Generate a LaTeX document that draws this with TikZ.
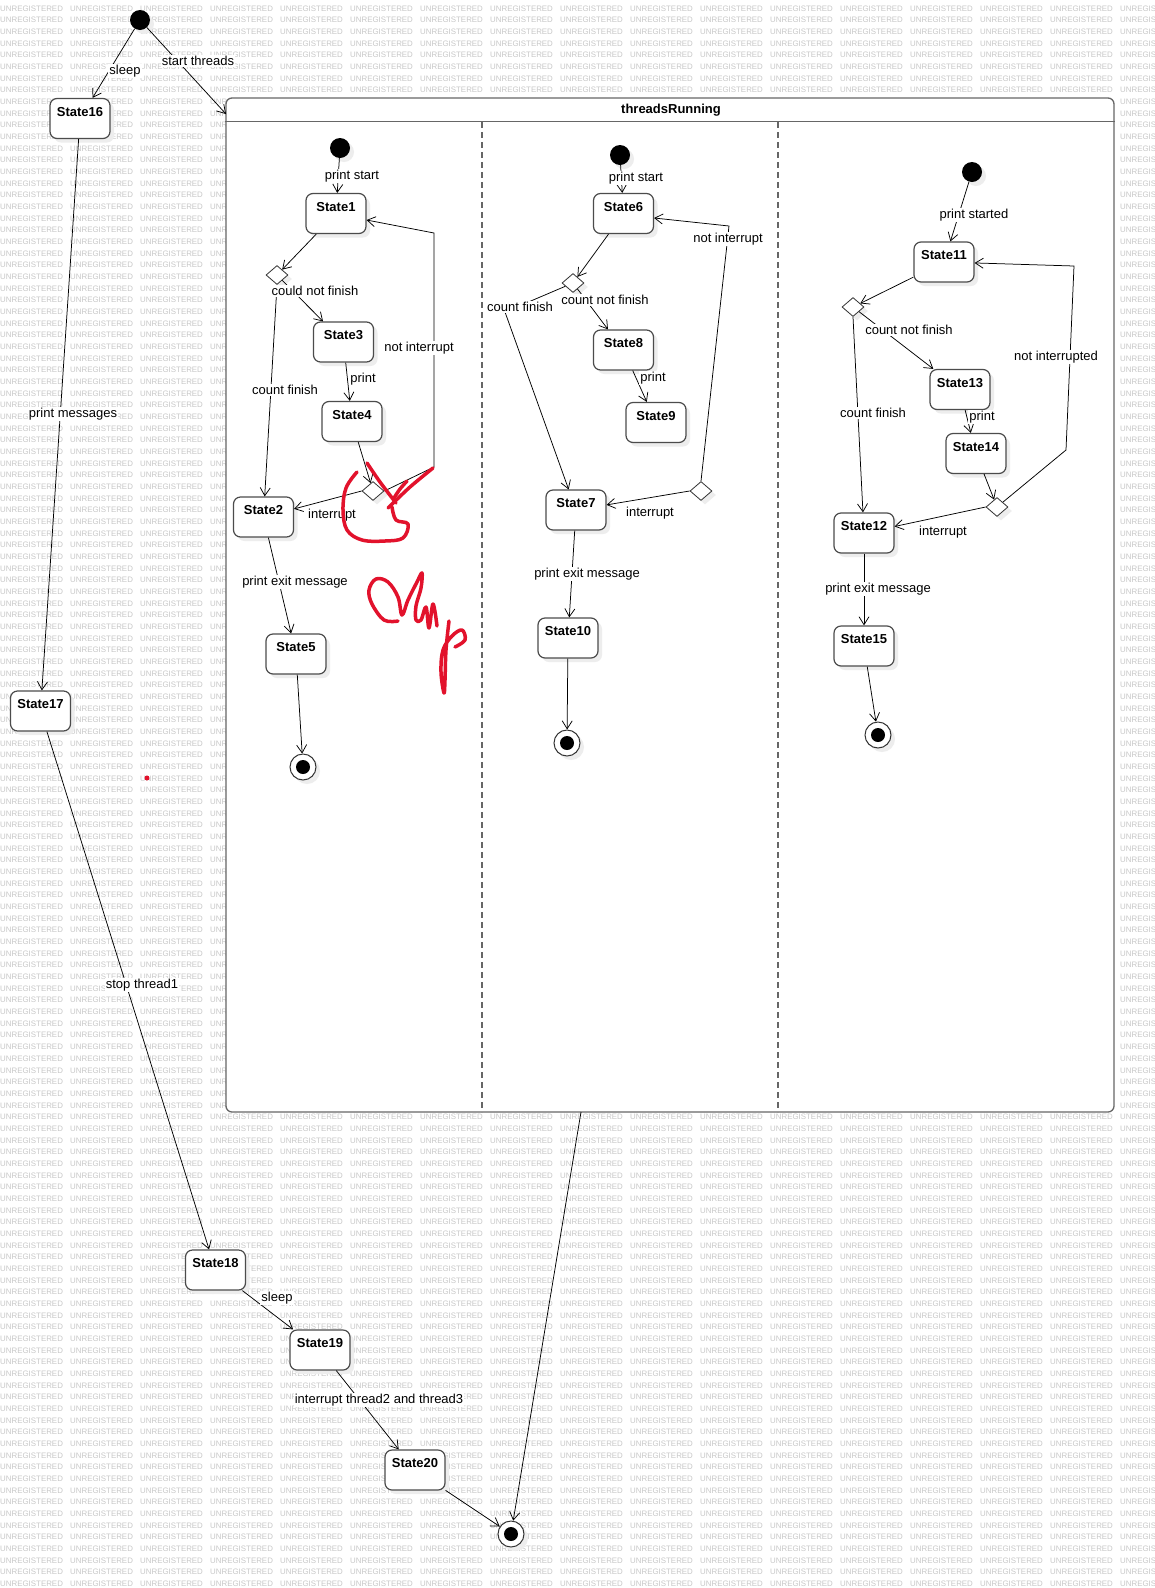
\documentclass[tikz,border=0pt]{standalone}
\usepackage{fontspec}
\setmainfont{Liberation Sans}
\usetikzlibrary{arrows.meta,shapes.geometric,shadows}
\begin{document}
\begin{tikzpicture}[x=1pt, y=-1pt,
  stateBox/.style={rectangle, rounded corners=7pt, draw=\smBorderColor, line width=1.2pt,
    fill=white, minimum width=60pt, minimum height=40pt, inner sep=0pt,
    text height=17.5pt, text depth=22.5pt, font=\smFont\bfseries, smShadow},
  choice/.style={diamond, draw=black!80, line width=0.8pt, fill=white,
    minimum width=22pt, minimum height=19pt, inner sep=0pt, smShadow},
  startDot/.style={circle, fill=black, minimum size=20pt, inner sep=0pt, smShadow},
  endDot/.style={circle, draw=black!80, line width=1pt, fill=white, minimum size=26pt,
    inner sep=0pt, smShadow,
    path picture={\fill[black] (path picture bounding box.center) circle (7pt);}},
  smShadow/.style={general shadow={fill=black!7, shadow xshift=4pt, shadow yshift=-4pt}},
  trans/.style={draw=black, line width=0.75pt, -{Straight Barb[length=8pt,width=10pt]}},
  lbl/.style={fill=white, inner sep=1pt, font=\smFont},
  wmark/.style={inner sep=0pt, text=black!22, font=\fontsize{7.9}{8}\selectfont},
  scrawl/.style={draw=smInk, line width=3.5pt, line cap=round, line join=round}]
% State diagram exported from the UML tool
\providecommand{\smFont}{\fontsize{13}{15}\selectfont}
\providecommand{\smBorderColor}{black!70}
\providecommand{\smFrameColor}{black!60}
\definecolor{smInk}{RGB}{226,18,44}
\def\wmWord{\makebox[70pt][l]{UNREGISTERED}}
\useasboundingbox (0,0) rectangle (1155,1588);
% Watermark rows
\begin{scope}
  \clip (0,0) rectangle (1155,1588);
  \foreach \r in {0,...,135}
    \node[wmark, anchor=west] (wm\r) at (0, 8.3+11.67*\r)
      {\wmWord\wmWord\wmWord\wmWord\wmWord\wmWord\wmWord\wmWord\wmWord\wmWord\wmWord\wmWord\wmWord\wmWord\wmWord\wmWord\wmWord};
\end{scope}
% Composite state with three regions
\node[rectangle, rounded corners=6pt, draw=\smFrameColor, line width=1.3pt, fill=white,
  minimum width=888pt, minimum height=1014pt, inner sep=0pt] (thr) at (670,605) {};
\node[font=\smFont\bfseries, inner sep=0pt] (thrTitle) at (671,110) {threadsRunning};
\draw[draw=\smFrameColor, line width=1.3pt] ([yshift=-24pt]thr.north west) -- ([yshift=-24pt]thr.north east);
\begin{scope}[draw=\smFrameColor, line width=1.2pt, dash pattern=on 6pt off 4pt]
  \draw (482,122) -- (482,1112);
  \draw (778,122) -- (778,1112);
\end{scope}
\coordinate (thrIn) at (226,114);
\coordinate (thrOut) at (581,1112);
% Outer states
\node[startDot] (init0) at (140,20) {};
\node[stateBox] (S16) at (80,118.5) {State16};
\node[stateBox] (S17) at (40.5,711) {State17};
\node[stateBox] (S18) at (215.5,1270) {State18};
\node[stateBox] (S19) at (320,1350) {State19};
\node[stateBox] (S20) at (415,1470) {State20};
\node[endDot] (fin0) at (511,1534) {};
% Region 1
\node[startDot] (init1) at (340,148) {};
\node[stateBox] (S1) at (336,213.5) {State1};
\node[choice] (d1) at (277,275) {};
\node[stateBox] (S3) at (343.5,342) {State3};
\node[stateBox] (S4) at (352,421.5) {State4};
\node[choice] (d2) at (373,491) {};
\node[stateBox] (S2) at (263.5,517) {State2};
\node[stateBox] (S5) at (296,654) {State5};
\node[endDot] (fin1) at (303,767) {};
% Region 2
\node[startDot] (init2) at (620,155) {};
\node[stateBox] (S6) at (623.5,213.5) {State6};
\node[choice] (d3) at (573,283) {};
\node[stateBox] (S8) at (623.5,350) {State8};
\node[stateBox] (S9) at (656,422.5) {State9};
\node[choice] (d4) at (701,491) {};
\node[stateBox] (S7) at (576,510) {State7};
\node[stateBox] (S10) at (568,638) {State10};
\node[endDot] (fin2) at (567,743) {};
% Region 3
\node[startDot] (init3) at (972,172) {};
\node[stateBox] (S11) at (944,262) {State11};
\node[choice] (d5) at (853,307) {};
\node[stateBox] (S13) at (960,389.5) {State13};
\node[stateBox] (S14) at (976,453.5) {State14};
\node[choice] (d6) at (997,507) {};
\node[stateBox] (S12) at (864,533) {State12};
\node[stateBox] (S15) at (864,646) {State15};
\node[endDot] (fin3) at (878,735) {};
% Transitions
\draw[trans] (init0) -- (S16);
\draw[trans] (init0) -- (thrIn);
\draw[trans] (S16) -- (S17);
\draw[trans] (S17) -- (S18);
\draw[trans] (S18) -- (S19);
\draw[trans] (S19) -- (S20);
\draw[trans] (S20) -- (fin0);
\draw[trans] (thrOut) -- (fin0);
\draw[trans] (init1) -- (S1);
\draw[trans] (S1) -- (d1);
\draw[trans] (d1) -- (S3);
\draw[trans] (d1.south) -- (S2);
\draw[trans] (S3) -- (S4);
\draw[trans] (S4) -- (d2);
\draw[trans] (d2.west) -- (S2);
\draw[trans] (d2.east) -- (434,467) -- (434,233) -- ([yshift=-6.5pt]S1.east);
\draw[trans] (S2) -- (S5);
\draw[trans] (S5) -- (fin1);
\draw[trans] (init2) -- (S6);
\draw[trans] (S6) -- (d3);
\draw[trans] (d3) -- (S8);
\draw[trans] (d3) -- (505,312) -- (S7);
\draw[trans] (S8) -- (S9);
\draw[trans] (d4.west) -- (S7);
\draw[trans] (d4.north) -- (729,226) -- ([yshift=-4.5pt]S6.east);
\draw[trans] (S7) -- (S10);
\draw[trans] (S10) -- (fin2);
\draw[trans] (init3) -- (S11);
\draw[trans] (S11) -- (d5);
\draw[trans] (d5) -- (S13);
\draw[trans] (d5.south) -- (S12);
\draw[trans] (S13) -- (S14);
\draw[trans] (S14) -- (d6);
\draw[trans] (d6.west) -- (S12);
\draw[trans] (d6) -- (1066,450) -- (1074,266) -- (S11);
\draw[trans] (S12) -- (S15);
\draw[trans] (S15) -- (fin3);
% Transition labels
\node[lbl] (lSleepA) at (125,71) {sleep};
\node[lbl] (lStart) at (198,61) {start threads};
\node[lbl] (lMsgs) at (73,414) {print messages};
\node[lbl] (lStop) at (142,985) {stop thread1};
\node[lbl] (lSleepB) at (277,1298) {sleep};
\node[lbl] (lIntr) at (379,1400) {interrupt thread2 and thread3};
\node[lbl] (l1a) at (352,176) {print start};
\node[lbl] (l1b) at (315,291) {could not finish};
\node[lbl] (l1c) at (419,348) {not interrupt};
\node[lbl] (l1d) at (363,379) {print};
\node[lbl] (l1e) at (285,390) {count finish};
\node[lbl] (l1f) at (332,515) {interrupt};
\node[lbl] (l1g) at (295,582) {print exit message};
\node[lbl] (l2a) at (636,178) {print start};
\node[lbl] (l2b) at (520,307) {count finish};
\node[lbl] (l2c) at (605,300) {count not finish};
\node[lbl] (l2d) at (653,378) {print};
\node[lbl] (l2e) at (728,239) {not interrupt};
\node[lbl] (l2f) at (650,513) {interrupt};
\node[lbl] (l2g) at (587,574) {print exit message};
\node[lbl] (l3a) at (974,215) {print started};
\node[lbl] (l3b) at (909,330) {count not finish};
\node[lbl] (l3c) at (982,417) {print};
\node[lbl] (l3d) at (1056,357) {not interrupted};
\node[lbl] (l3e) at (873,413) {count finish};
\node[lbl] (l3f) at (943,532) {interrupt};
\node[lbl] (l3g) at (878,589) {print exit message};
% Red pen marks
\draw[scrawl] plot[smooth, tension=0.6] coordinates {(357,472) (346,488) (343,510) (347,530) (362,540) (385,541) (403,538) (408,524) (396,520) (392,507)};
\draw[scrawl] plot[smooth] coordinates {(367,463) (380,482) (396,503)};
\draw[scrawl] plot[smooth] coordinates {(388,508) (410,487) (433,468)};
\draw[scrawl] plot[smooth] coordinates {(394,498) (400,489) (407,481)};
\draw[scrawl] plot[smooth, tension=0.6] coordinates {(398,621) (384,620) (372,604) (369,590) (376,579) (388,582) (398,597) (402,615) (408,600) (417,582) (422,573) (421,588) (416,606) (416,620) (421,620) (426,607) (429,628) (433,604) (437,626)};
\draw[scrawl] plot[smooth, tension=0.6] coordinates {(449,621) (446,650) (445,680) (444,693) (441,672) (443,650) (452,636) (462,630) (465,640) (455,647)};
\fill[smInk] (147,778) circle (2.5pt);
\end{tikzpicture}
\end{document}
